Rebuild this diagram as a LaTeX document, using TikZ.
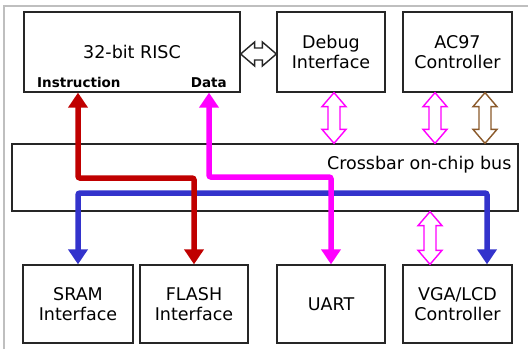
\documentclass[tikz,border=0pt]{standalone}
\usepackage{fontspec}
\setmainfont{DejaVu Sans}
\usetikzlibrary{arrows.meta,calc}
\definecolor{cred}{HTML}{C00000}
\definecolor{cmag}{HTML}{FF00FF}
\definecolor{cblue}{HTML}{3333CC}
\definecolor{cbrown}{HTML}{8B5A2B}
\newcommand{\HollowV}[3]{%
 \draw[#3] let \p1=(#1), \p2=(#2) in (\x1,\y1) -- (\x1+12pt,\y1-14pt) -- (\x1+6pt,\y1-14pt) -- (\x1+6pt,\y2+14pt) -- (\x1+12pt,\y2+14pt) -- (\x1,\y2) -- (\x1-12pt,\y2+14pt) -- (\x1-6pt,\y2+14pt) -- (\x1-6pt,\y1-14pt) -- (\x1-12pt,\y1-14pt) -- cycle;}
\newcommand{\HollowH}[3]{%
 \draw[#3] let \p1=(#1), \p2=(#2) in (\x1,\y1) -- (\x1+14pt,\y1+12pt) -- (\x1+14pt,\y1+6pt) -- (\x2-14pt,\y1+6pt) -- (\x2-14pt,\y1+12pt) -- (\x2,\y1) -- (\x2-14pt,\y1-12pt) -- (\x2-14pt,\y1-6pt) -- (\x1+14pt,\y1-6pt) -- (\x1+14pt,\y1-12pt) -- cycle;}
\tikzset{
 blk/.style={draw=black!85, line width=1.3pt, fill=white, align=center, inner sep=0pt,
   font=\fontsize{17.5}{20}\selectfont, text=black},
 lbl/.style={font=\bfseries\fontsize{13.5}{15}\selectfont, inner sep=0pt, text=black},
 bus/.style={line width=5.5pt, rounded corners=2pt, -{Triangle[width=19pt,length=15pt]}},
 busboth/.style={bus, {Triangle[width=19pt,length=15pt]}-{Triangle[width=19pt,length=15pt]}},
 hollow/.style={line width=1.4pt, fill=white, line join=miter}
}
\begin{document}
\begin{tikzpicture}[x=1pt,y=-1pt]
\useasboundingbox (0,0) rectangle (528,349);
\fill[white] (0,0) rectangle (528,349);
\draw[gray!50, line width=2pt] (4,349) -- (4,6) -- (528,6);
% boxes
\node[blk, minimum width=216, minimum height=80] (risc) at (132,52) {32-bit RISC};
\node[blk, minimum width=108, minimum height=80] (debug) at (331,52) {Debug\\Interface};
\node[blk, minimum width=109, minimum height=80] (ac97) at (457.5,52) {AC97\\Controller};
\node[blk, minimum width=506, minimum height=67] (bus) at (265,177.5) {};
\node[blk, draw=none, fill=none, anchor=base east] (bustext) at (512,169) {Crossbar on-chip bus};
\node[blk, minimum width=110, minimum height=78] (sram) at (78,304) {SRAM\\Interface};
\node[blk, minimum width=108, minimum height=78] (flash) at (194,304) {FLASH\\Interface};
\node[blk, minimum width=108, minimum height=78] (uart) at (331,304) {UART};
\node[blk, minimum width=109, minimum height=78] (vga) at (457.5,304) {VGA/LCD\\Controller};
\node[lbl, anchor=base west] (instr) at (37,87) {Instruction};
\node[lbl, anchor=base east] (data) at (227,87) {Data};
% coordinates
\coordinate (ip) at ([xshift=-54pt]risc.south);
\coordinate (dp) at ([xshift=77pt]risc.south);
\coordinate (redlvl) at (0,178);
\coordinate (maglvl) at (0,177);
\coordinate (bluelvl) at (0,193);
\coordinate (vgain) at ([xshift=29.5pt]vga.north);
% colored buses
\draw[busboth, cblue] (sram.north) |- (bluelvl -| vgain) -- (vgain);
\draw[busboth, cred] (ip) |- (redlvl -| flash.north) -- (flash.north);
\draw[busboth, cmag] (dp) |- (maglvl -| uart.north) -- (uart.north);
% hollow double arrows
\coordinate (d1t) at ([xshift=3pt]debug.south);
\coordinate (d1b) at (d1t |- bus.north);
\HollowV{d1t}{d1b}{hollow, draw=cmag}
\coordinate (a1t) at ([xshift=-22.5pt]ac97.south);
\coordinate (a1b) at (a1t |- bus.north);
\HollowV{a1t}{a1b}{hollow, draw=cmag}
\coordinate (a2t) at ([xshift=27.5pt]ac97.south);
\coordinate (a2b) at (a2t |- bus.north);
\HollowV{a2t}{a2b}{hollow, draw=cbrown}
\coordinate (v1b) at ([xshift=-27.5pt]vga.north);
\coordinate (v1t) at (v1b |- bus.south);
\HollowV{v1t}{v1b}{hollow, draw=cmag}
\coordinate (rl) at ([yshift=-2pt]risc.east);
\coordinate (rr) at (rl -| debug.west);
\HollowH{rl}{rr}{hollow, draw=black!85}
\end{tikzpicture}
\end{document}
